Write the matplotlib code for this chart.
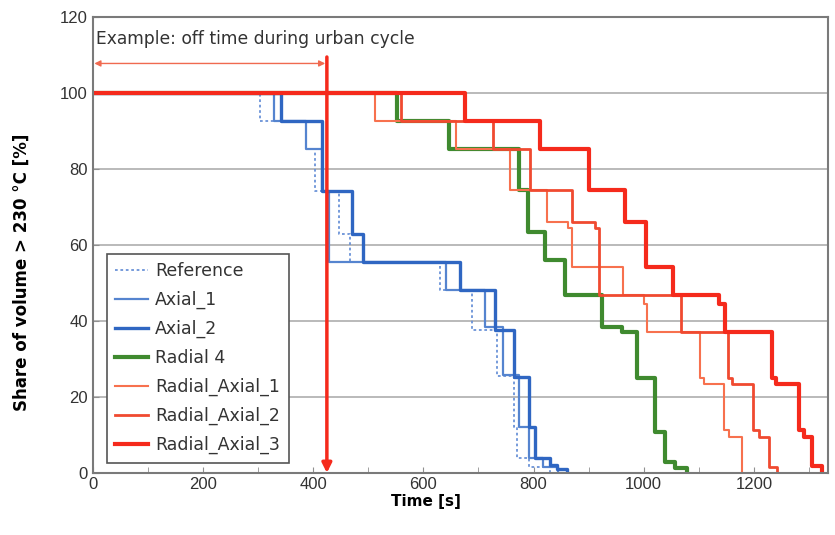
import matplotlib
matplotlib.use("Agg")
from matplotlib import pyplot as plt

plt.rcParams['font.family'] = ['DejaVu Sans']

# step curves: times [s] where the share changes, and the share from that time on [%]
ref_t = [0, 303, 388, 403, 447, 467, 631, 688, 733, 764, 770, 792, 830]
ref_v = [100, 92.6, 85.2, 74.1, 63.0, 55.6, 48.1, 37.5, 25.5, 12.2, 3.9, 1.5, 0]

ax1_t = [0, 329, 388, 417, 429, 642, 712, 745, 773, 791, 818, 845]
ax1_v = [100, 92.6, 85.2, 74.1, 55.6, 48.1, 38.5, 25.9, 12.2, 3.9, 1.5, 0]

ax2_t = [0, 341, 417, 470, 490, 667, 730, 764, 791, 803, 830, 842, 860]
ax2_v = [100, 92.6, 74.1, 63.0, 55.6, 48.1, 37.5, 25.3, 12.2, 3.9, 2.2, 1.0, 0]

rad4_t = [0, 552, 647, 774, 790, 821, 857, 924, 960, 988, 1021, 1039, 1057, 1078]
rad4_v = [100, 92.6, 85.2, 74.6, 63.5, 56.0, 46.8, 38.5, 37.2, 24.9, 10.9, 3.0, 1.2, 0]

ra1_t = [0, 512, 660, 757, 824, 863, 869, 963, 1000, 1006, 1103, 1110, 1145, 1155, 1178]
ra1_v = [100, 92.6, 85.2, 74.4, 66.1, 64.5, 54.3, 46.8, 44.5, 37.2, 24.9, 23.5, 11.3, 9.5, 0]

ra2_t = [0, 560, 727, 794, 869, 912, 918, 1067, 1153, 1160, 1199, 1210, 1227, 1242]
ra2_v = [100, 92.6, 85.2, 74.4, 66.1, 64.5, 46.8, 37.2, 24.9, 23.5, 11.3, 9.5, 1.5, 0]

ra3_t = [0, 676, 812, 900, 966, 1005, 1054, 1136, 1148, 1233, 1240, 1281, 1290, 1305, 1324]
ra3_v = [100, 92.6, 85.2, 74.6, 66.1, 54.3, 46.8, 44.5, 37.2, 24.9, 23.5, 11.3, 9.5, 1.7, 0]

off_time = 425
note = "Example: off time during urban cycle"


def main():
    fig = plt.figure(figsize=(8.35, 5.35), dpi=100)
    ax = fig.add_axes([0.111, 0.116, 0.881, 0.852])

    # grid first so the curves sit on top
    for yv in [20, 40, 60, 80, 100]:
        ax.axhline(yv, color="#b4b4b4", lw=1.3, zorder=0)

    ax.step(ref_t, ref_v, where="post", color="#6b93d8", lw=1.3, ls=(0, (1.5, 1.5)), label="Reference")
    ax.step(ax1_t, ax1_v, where="post", color="#5584cf", lw=1.6, label="Axial_1")
    ax.step(ax2_t, ax2_v, where="post", color="#2f66c2", lw=2.4, label="Axial_2")
    ax.step(rad4_t, rad4_v, where="post", color="#3f8a2f", lw=3.0, label="Radial 4")
    ax.step(ra1_t, ra1_v, where="post", color="#f7714e", lw=1.5, label="Radial_Axial_1")
    ax.step(ra2_t, ra2_v, where="post", color="#f04a30", lw=2.0, label="Radial_Axial_2")
    ax.step(ra3_t, ra3_v, where="post", color="#f52a1c", lw=3.0, label="Radial_Axial_3")

    # off time marker
    ax.annotate("", xy=(off_time, 0), xytext=(off_time, 109.5),
                arrowprops=dict(arrowstyle="-|>", color="#f52a1c", lw=2.5,
                                mutation_scale=14, shrinkA=0, shrinkB=0), zorder=5)
    ax.annotate("", xy=(3, 107.8), xytext=(off_time - 3, 107.8),
                arrowprops=dict(arrowstyle="<|-|>", color="#f06a50", lw=1.0,
                                mutation_scale=9, shrinkA=0, shrinkB=0))
    ax.text(6, 114.3, note, fontsize=12.3, va="center", color="#333333")

    ax.set_xlim(0, 1335)
    ax.set_ylim(0, 120)
    ax.set_xticks(range(0, 1201, 200))
    ax.set_xticks(range(100, 1301, 200), minor=True)
    ax.set_yticks(range(0, 121, 20))
    ax.tick_params(axis="both", which="both", direction="in", length=4, color="#909090",
                   labelsize=12, labelcolor="#333333")
    ax.tick_params(axis="x", pad=3)
    for lab in ax.get_xticklabels() + ax.get_yticklabels():
        lab.set_family("Liberation Sans")

    for s in ax.spines.values():
        s.set_color("#7a7a7a")
        s.set_linewidth(1.5)

    ax.set_xlabel("Time [s]", fontsize=11, fontweight="bold")
    ax.set_ylabel("Share of volume > 230 °C [%]", fontsize=12, fontweight="bold")
    ax.xaxis.set_label_coords(0.453, -0.047)
    ax.yaxis.set_label_coords(-0.084, 0.44)

    leg = ax.legend(loc="lower left", bbox_to_anchor=(0.019, 0.022), fontsize=12.5,
                    fancybox=False, framealpha=1, edgecolor="#555555",
                    handlelength=1.9, handletextpad=0.4, labelspacing=0.62, borderpad=0.5,
                    borderaxespad=0)
    leg.get_frame().set_linewidth(1.2)
    for t in leg.get_texts():
        t.set_color("#333333")

    fig.savefig("out.png", dpi=100)


if __name__ == "__main__":
    main()
